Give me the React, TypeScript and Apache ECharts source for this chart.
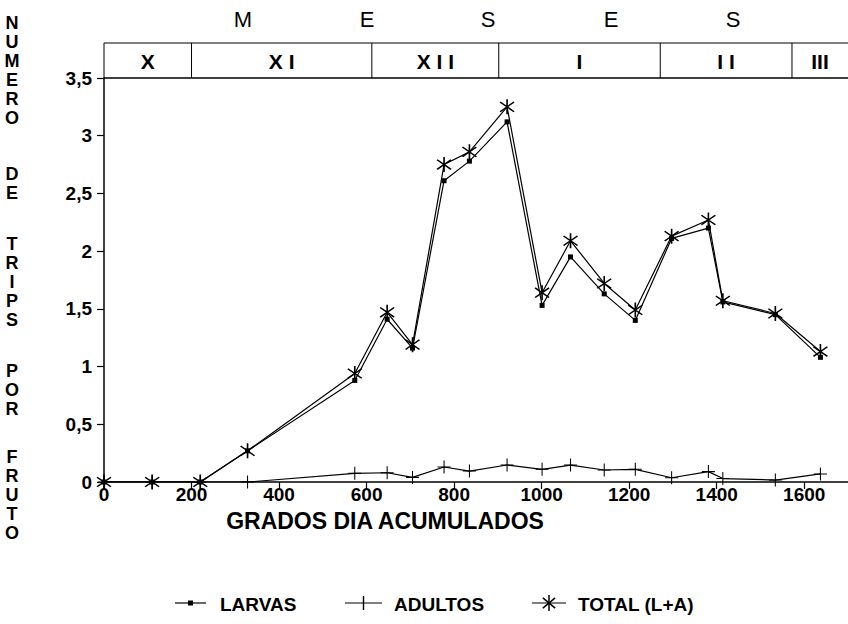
import React, { useEffect, useRef } from "react";
import * as echarts from "echarts";

const GDD = [0, 110, 220, 328, 573, 647, 705, 777, 835, 921, 1001, 1066, 1143, 1214, 1297, 1381, 1414, 1534, 1637];
const LARVAS = [0, 0, 0, 0.27, 0.88, 1.41, 1.16, 2.61, 2.78, 3.12, 1.53, 1.95, 1.63, 1.4, 2.11, 2.2, 1.56, 1.45, 1.08];
const ADULTOS = [0, 0, 0, 0, 0.075, 0.08, 0.04, 0.13, 0.095, 0.147, 0.11, 0.147, 0.104, 0.11, 0.037, 0.09, 0.03, 0.017, 0.07];
const TOTAL = [0, 0, 0, 0.27, 0.94, 1.47, 1.19, 2.75, 2.86, 3.25, 1.64, 2.09, 1.72, 1.49, 2.13, 2.27, 1.57, 1.46, 1.13];

const SERIES_NAMES = ["LARVAS", "ADULTOS", "TOTAL (L+A)"];
const MONTH_BOUNDS = [0, 200, 612, 902, 1271, 1572, 1700];
const MONTH_LABELS = ["X", "X I", "X I I", "I", "I I", "III"];
const MESES = ["M", "E", "S", "E", "S"];
const MESES_X = [243, 367, 488, 611, 733];
const Y_TITLE_WORDS = ["NUMERO", "DE", "TRIPS", "POR", "FRUTO"];
const Y_TITLE_START = [23, 174, 244, 371, 457];
const X_TITLE = "GRADOS DIA ACUMULADOS";

const FONT = "Liberation Sans, Arial, Helvetica, sans-serif";

function barsPath(angles: number[], L: number, t: number): string {
  const c = 10;
  let d = "";
  for (const a of angles) {
    const r = (a * Math.PI) / 180;
    const dx = Math.cos(r), dy = Math.sin(r);
    const nx = -dy, ny = dx;
    const p = [
      [c + L * dx + t * nx, c + L * dy + t * ny],
      [c + L * dx - t * nx, c + L * dy - t * ny],
      [c - L * dx - t * nx, c - L * dy - t * ny],
      [c - L * dx + t * nx, c - L * dy + t * ny],
    ];
    d += `M${p[0][0].toFixed(3)},${p[0][1].toFixed(3)}L${p[1][0].toFixed(3)},${p[1][1].toFixed(3)}L${p[2][0].toFixed(3)},${p[2][1].toFixed(3)}L${p[3][0].toFixed(3)},${p[3][1].toFixed(3)}Z`;
  }
  return "path://" + d;
}

const PLUS = barsPath([0, 90], 10, 0.8);
const STAR_ANGLES = [90, 40, 140];
const STAR = barsPath(STAR_ANGLES, 10, 0.9);

export default function App() {
  const ref = useRef<HTMLDivElement>(null);
  useEffect(() => {
    if (!ref.current) return;
    const chart = echarts.init(ref.current, undefined, { renderer: "svg" });
    const toPairs = (ys: number[]) => GDD.map((x, i) => [x, ys[i]]);
    const lineStyle = { color: "#000", width: 1.2 };
    chart.setOption({
      animation: false,
      backgroundColor: "#fff",
      textStyle: { fontFamily: FONT },
      grid: { left: 104, top: 78, right: 0, bottom: 142, containLabel: false },
      xAxis: {
        type: "value",
        min: 0,
        max: 1700,
        interval: 200,
        axisLine: { lineStyle: { color: "#000", width: 1.5 } },
        axisTick: { show: true, length: 7, inside: false, lineStyle: { color: "#000", width: 1.2 } },
        axisLabel: {
          color: "#000",
          fontSize: 19,
          fontWeight: "bold",
          fontFamily: FONT,
          margin: 3,
          showMaxLabel: false,
          formatter: (v: number) => (v % 200 === 0 ? String(v) : ""),
        },
        splitLine: { show: false },
      },
      yAxis: {
        type: "value",
        min: 0,
        max: 3.5,
        interval: 0.5,
        axisLine: { show: true, lineStyle: { color: "#000", width: 1.5 } },
        axisTick: { show: true, length: 7, lineStyle: { color: "#000", width: 1.2 } },
        axisLabel: {
          color: "#000",
          fontSize: 19,
          fontWeight: "bold",
          fontFamily: FONT,
          margin: 12,
          formatter: (v: number) => String(v).replace(".", ","),
        },
        splitLine: { show: false },
      },
      series: [
        {
          name: SERIES_NAMES[0],
          type: "line",
          data: toPairs(LARVAS),
          symbol: "rect",
          symbolSize: 5,
          itemStyle: { color: "#000" },
          lineStyle,
          z: 3,
        },
        {
          name: SERIES_NAMES[1],
          type: "line",
          data: toPairs(ADULTOS),
          symbol: PLUS,
          symbolSize: 13,
          itemStyle: { color: "#000" },
          lineStyle,
          z: 2,
        },
        {
          name: SERIES_NAMES[2],
          type: "line",
          data: toPairs(TOTAL),
          symbol: STAR,
          symbolSize: 15,
          itemStyle: { color: "#000" },
          lineStyle,
          z: 4,
        },
      ],
    });

    const px = (v: number) => chart.convertToPixel({ xAxisIndex: 0 }, v) as number;
    const top = 43;
    const bot = 78;
    const W = 848;
    const elements: any[] = [];
    const x0 = px(MONTH_BOUNDS[0]);
    elements.push({ type: "line", shape: { x1: x0, y1: top, x2: W, y2: top }, style: { stroke: "#000", lineWidth: 1.2 } });
    elements.push({ type: "line", shape: { x1: x0, y1: bot, x2: W, y2: bot }, style: { stroke: "#000", lineWidth: 1.5 } });
    for (let i = 0; i < MONTH_BOUNDS.length - 1; i++) {
      const a = px(MONTH_BOUNDS[i]);
      const b = Math.min(px(MONTH_BOUNDS[i + 1]), W);
      elements.push({ type: "line", shape: { x1: a, y1: top, x2: a, y2: bot }, style: { stroke: "#000", lineWidth: 1 } });
      elements.push({
        type: "text",
        x: (a + b) / 2,
        y: (top + bot) / 2 + 1,
        style: { text: MONTH_LABELS[i], fill: "#000", font: `bold 21px ${FONT}`, align: "center", verticalAlign: "middle" },
      });
    }
    MESES.forEach((m, i) => {
      elements.push({
        type: "text",
        x: MESES_X[i],
        y: 19,
        style: { text: m, fill: "#000", font: `22px ${FONT}`, align: "center", verticalAlign: "middle" },
      });
    });
    Y_TITLE_WORDS.forEach((w, wi) => {
      w.split("").forEach((ch, ci) => {
        elements.push({
          type: "text",
          x: 12,
          y: Y_TITLE_START[wi] + ci * 19,
          style: { text: ch, fill: "#000", font: `bold 18px ${FONT}`, align: "center", verticalAlign: "middle" },
        });
      });
    });
    elements.push({
      type: "text",
      x: 385,
      y: 521,
      style: { text: X_TITLE, fill: "#000", font: `bold 23px ${FONT}`, align: "center", verticalAlign: "middle" },
    });

    // manual legend
    const LY = 603;
    const legendItems = [
      { x1: 175, x2: 206, text: 220 },
      { x1: 345, x2: 382, text: 394 },
      { x1: 532, x2: 566, text: 578 },
    ];
    legendItems.forEach((it, i) => {
      const cx = (it.x1 + it.x2) / 2;
      elements.push({ type: "line", shape: { x1: it.x1, y1: LY, x2: it.x2, y2: LY }, style: { stroke: "#000", lineWidth: 1.2 } });
      if (i === 0) {
        elements.push({ type: "rect", shape: { x: cx - 2.5, y: LY - 2.5, width: 5, height: 5 }, style: { fill: "#000" } });
      } else if (i === 1) {
        elements.push({ type: "line", shape: { x1: cx, y1: LY - 7, x2: cx, y2: LY + 7 }, style: { stroke: "#000", lineWidth: 1.4 } });
      } else {
        STAR_ANGLES.forEach((a) => {
          const r = (a * Math.PI) / 180;
          const L = 8;
          elements.push({
            type: "line",
            shape: { x1: cx - L * Math.cos(r), y1: LY - L * Math.sin(r), x2: cx + L * Math.cos(r), y2: LY + L * Math.sin(r) },
            style: { stroke: "#000", lineWidth: 1.5 },
          });
        });
      }
      elements.push({
        type: "text",
        x: it.text,
        y: LY + 1,
        style: { text: SERIES_NAMES[i], fill: "#000", font: `bold 19px ${FONT}`, align: "left", verticalAlign: "middle" },
      });
    });
    chart.setOption({ graphic: { elements } });

    return () => chart.dispose();
  }, []);
  return <div ref={ref} style={{ position: "fixed", left: 0, top: 0, width: 848, height: 624, background: "#fff" }} />;
}
